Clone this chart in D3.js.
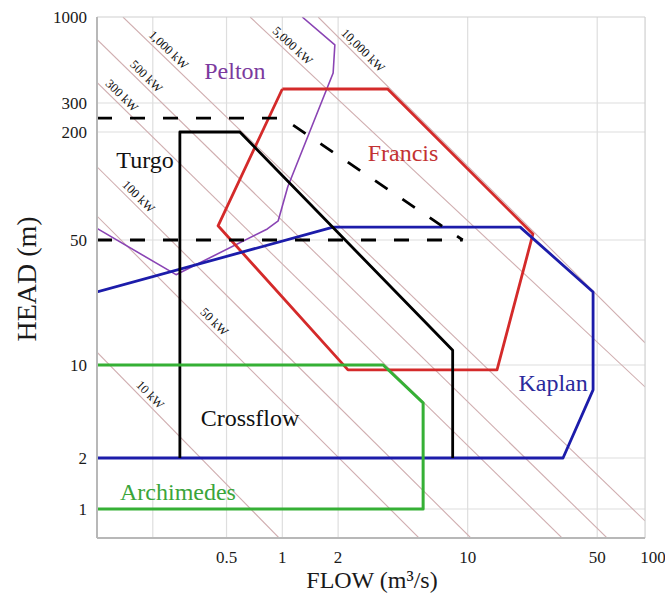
<!DOCTYPE html>
<html>
<head>
<meta charset="utf-8">
<script src="https://cdn.jsdelivr.net/npm/d3@7"></script>
<style>
    body { margin: 0; background: #fff; }
    text { font-family: "Liberation Serif", "Times New Roman", serif; }
</style>
</head>
<body>
<div id="chart"></div>
<script>
// axis ticks and plot extent
var flowTicks = [0.5, 1, 2, 10, 50, 100];
var headTicks = [1, 2, 10, 50, 200, 300, 1000];
var flowGrid = [0.2, 0.5, 1, 2, 10, 50];
var headGrid = [1, 2, 10, 50, 200, 300];
var flowExtent = [0.1, 90.6];
var headExtent = [0.675, 1000];

// turbine envelopes as [flow m3/s, head m]
var pelton = [[0.1, 58], [0.267, 32], [0.83, 57.6], [0.95, 64], [1.07, 99], [1.88, 457], [1.92, 676], [1.28, 1000]];
var francis = [[1.0, 365], [3.7, 365], [22.5, 54], [14.4, 9.2], [2.26, 9.2], [0.45, 60], [1.0, 365]];
var kaplan = [[0.1, 2], [32.7, 2], [47.5, 6.5], [47.5, 25.6], [19.2, 59], [1.88, 59], [0.1, 25.6]];
var turgo = [[0.28, 2], [0.28, 200], [0.59, 200], [8.3, 12.1], [8.3, 2]];
var archimedes = [[0.1, 10], [3.5, 10], [5.75, 5.2], [5.75, 1], [0.1, 1]];
var dashedUpper = [[0.1, 243], [0.97, 243], [1.05, 235], [9.4, 50]];
var dashedLower = [[0.1, 50], [9.4, 50]];

// power lines, each from where it enters the plot to where it leaves
var powerLabels = ["10 kW", "50 kW", "100 kW", "300 kW", "500 kW", "1,000 kW", "5,000 kW", "10,000 kW"];
var powerStart = [[0.1, 11.8], [0.1, 68], [0.1, 128], [0.1, 400], [0.1, 730], [0.138, 1000], [0.67, 1000], [1.56, 1000]];
var powerEnd = [[0.96, 0.675], [5.46, 0.675], [10.4, 0.675], [32.3, 0.675], [56.5, 0.675], [90.6, 0.85], [90.6, 6.84], [90.6, 13.3]];
var powerLabelFlow = [0.18, 0.40, 0.156, 0.127, 0.172, 0.227, 1.06, 2.54];

var turbineNames = ["Pelton", "Turgo", "Francis", "Kaplan", "Crossflow", "Archimedes"];
var turbineLabelAt = [[0.555, 420], [0.1816, 126], [4.48, 138], [28.9, 6.38], [0.669, 3.48], [0.2735, 1.13]];
var turbineLabelColor = ["#7b3a9e", "#111", "#c33232", "#2a2a9c", "#111", "#3aa53a"];

drawChart();

function drawChart() {
    var width = 665, height = 602;

    var x = d3.scaleLog().domain([0.1, 100]).range([97, 653]);
    // the head axis of the original is not evenly spaced per decade
    var y = d3.scaleLog()
        .domain([1, 2, 10, 50, 200, 300, 1000])
        .range([509, 458, 365, 240, 132, 103, 17]);

    var left = x(flowExtent[0]), right = x(flowExtent[1]);
    var plotTop = y(headExtent[1]), plotBottom = y(headExtent[0]);

    var svg = d3.select("#chart").append("svg")
        .attr("width", width)
        .attr("height", height);

    svg.append("defs").append("clipPath")
        .attr("id", "plotArea")
        .append("rect")
        .attr("x", left)
        .attr("y", plotTop)
        .attr("width", right - left)
        .attr("height", plotBottom - plotTop);

    // grid
    svg.append("g").selectAll("line")
        .data(flowGrid)
        .enter().append("line")
        .attr("x1", d => x(d)).attr("x2", d => x(d))
        .attr("y1", plotTop).attr("y2", plotBottom)
        .attr("stroke", "#dedede").attr("stroke-width", 1.2);

    svg.append("g").selectAll("line")
        .data(headGrid)
        .enter().append("line")
        .attr("x1", left).attr("x2", right)
        .attr("y1", d => y(d)).attr("y2", d => y(d))
        .attr("stroke", "#dedede").attr("stroke-width", 1.2);

    var plot = svg.append("g").attr("clip-path", "url(#plotArea)");

    var line = d3.line()
        .x(d => x(d[0]))
        .y(d => y(d[1]));

    // power lines
    plot.append("g").selectAll("path")
        .data(powerStart)
        .enter().append("path")
        .attr("d", (d, i) => line([d, powerEnd[i]]))
        .attr("fill", "none")
        .attr("stroke", "#d0aeb0")
        .attr("stroke-width", 1.1);

    // power line labels sit just above their line
    svg.append("g").selectAll("text")
        .data(powerLabels)
        .enter().append("text")
        .attr("transform", function (d, i) {
            var x0 = x(powerStart[i][0]), y0 = y(powerStart[i][1]);
            var x1 = x(powerEnd[i][0]), y1 = y(powerEnd[i][1]);
            var px = x(powerLabelFlow[i]);
            var py = y0 + (y1 - y0) * (px - x0) / (x1 - x0);
            var angle = Math.atan2(y1 - y0, x1 - x0) * 180 / Math.PI;
            return "translate(" + px + "," + py + ") rotate(" + angle + ")";
        })
        .attr("y", -4)
        .attr("text-anchor", "middle")
        .attr("font-size", 12.5)
        .attr("fill", "#111")
        .text(d => d);

    function envelope(data, color, w, dash) {
        plot.append("path")
            .attr("d", line(data))
            .attr("fill", "none")
            .attr("stroke", color)
            .attr("stroke-width", w)
            .attr("stroke-linejoin", "round")
            .attr("stroke-dasharray", dash || null);
    }

    envelope(pelton, "#8a44b4", 1.6);
    envelope(francis, "#d42a2a", 2.8);
    envelope(kaplan, "#1c1caa", 2.8);
    envelope(turgo, "#000", 2.8);
    envelope(archimedes, "#35b035", 3);
    envelope(dashedUpper, "#000", 2.8, "15,18");
    envelope(dashedLower, "#000", 2.8, "15,18");

    // frame
    svg.append("line").attr("x1", left).attr("x2", right).attr("y1", plotTop).attr("y2", plotTop)
        .attr("stroke", "#cfcfcf").attr("stroke-width", 1.2);
    svg.append("line").attr("x1", right).attr("x2", right).attr("y1", plotTop).attr("y2", plotBottom)
        .attr("stroke", "#cfcfcf").attr("stroke-width", 1.2);
    svg.append("line").attr("x1", left).attr("x2", left).attr("y1", plotTop).attr("y2", plotBottom)
        .attr("stroke", "#b8b8b8").attr("stroke-width", 2);
    svg.append("line").attr("x1", left).attr("x2", right).attr("y1", plotBottom).attr("y2", plotBottom)
        .attr("stroke", "#b8b8b8").attr("stroke-width", 2);

    // tick labels
    svg.append("g").selectAll("text")
        .data(headTicks)
        .enter().append("text")
        .attr("x", left - 10)
        .attr("y", d => y(d) + 6)
        .attr("text-anchor", "end")
        .attr("font-size", 17)
        .attr("fill", "#1a1a1a")
        .text(d => d);

    svg.append("g").selectAll("text")
        .data(flowTicks)
        .enter().append("text")
        .attr("x", d => x(d))
        .attr("y", 563)
        .attr("text-anchor", "middle")
        .attr("font-size", 17)
        .attr("fill", "#1a1a1a")
        .text(d => d);

    // turbine names
    svg.append("g").selectAll("text")
        .data(turbineNames)
        .enter().append("text")
        .attr("x", (d, i) => x(turbineLabelAt[i][0]))
        .attr("y", (d, i) => y(turbineLabelAt[i][1]))
        .attr("text-anchor", "middle")
        .attr("font-size", 24)
        .attr("fill", (d, i) => turbineLabelColor[i])
        .text(d => d);

    // axis titles
    svg.append("text")
        .attr("x", 372)
        .attr("y", 588)
        .attr("text-anchor", "middle")
        .attr("font-size", 24)
        .attr("fill", "#1a1a1a")
        .text("FLOW (m³/s)");

    svg.append("text")
        .attr("transform", "translate(36,279) rotate(-90)")
        .attr("text-anchor", "middle")
        .attr("font-size", 28)
        .attr("fill", "#1a1a1a")
        .text("HEAD (m)");
}
</script>
</body>
</html>
